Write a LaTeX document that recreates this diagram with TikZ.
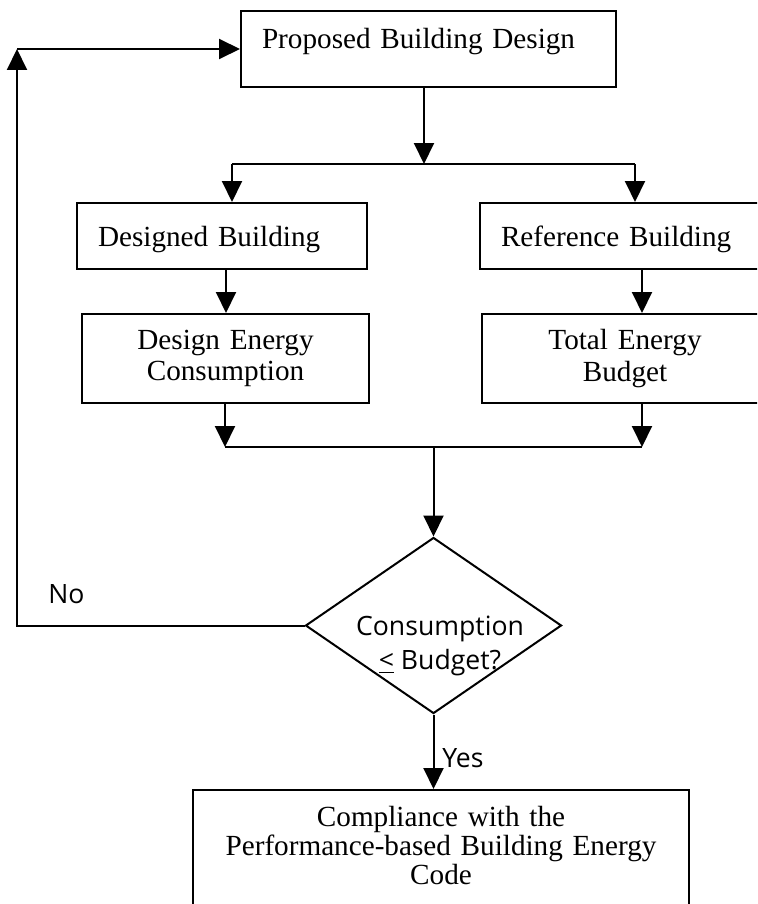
\documentclass[tikz,border=0pt]{standalone}
\usepackage{fontspec}
\setmainfont{Liberation Serif}
\newfontfamily\sansfnt{Open Sans}
\usetikzlibrary{arrows.meta, shapes.geometric}

\begin{document}
\begin{tikzpicture}[x=0.5pt, y=-0.5pt,
  box/.style={draw, line width=1pt, inner xsep=10.5pt, inner ysep=0pt, align=left, font=\fontsize{14.6}{15.8}\selectfont},
  twobox/.style={box, align=center, text width=122.5pt, minimum height=44.5pt},
  decision/.style={draw, line width=1pt, shape=diamond, inner sep=0pt, minimum width=128pt, minimum height=88pt},
  qtext/.style={align=center, inner sep=0pt, font=\sansfnt\fontsize{13.3}{17}\selectfont},
  lbl/.style={inner sep=0pt, font=\sansfnt\fontsize{13.3}{16}\selectfont},
  line/.style={line width=1pt},
  flow/.style={line, -{Triangle[length=10.5pt, width=10pt]}}]
\useasboundingbox (0,0) rectangle (757,904);
\clip (0,0) rectangle (757,904);
% boxes
\node[box, text width=166.5pt, text height=19pt, text depth=19pt] (prop) at (428.5,49) {Proposed Building Design};
\node[box, text width=124pt, text height=21.5pt, text depth=11.5pt] (dbld) at (222,236) {Designed Building};
\node[box, text width=124pt, text height=21.5pt, text depth=11.5pt] (rbld) at (625,236) {Reference Building};
\node[twobox] (denergy) at (225.5,358.5) {Design Energy\\Consumption};
\node[twobox] (tbudget) at (625,358.5) {Total Energy\\Budget};
\node[decision] (check) at (433.5,625.5) {};
\node[qtext] (checktxt) at (440,646) {Consumption\\\underline{<} Budget?};
\node[box, anchor=north, align=center, text width=227pt, inner ysep=8pt, text depth=37pt, font=\fontsize{14.6}{14.5}\selectfont] (comp) at (441,789) {Compliance with the\\Performance-based Building Energy\\Code};
\node[lbl, anchor=base west] (nolbl) at (48,603) {No};
\node[lbl, anchor=base west] (yeslbl) at (442,767) {Yes};
% connector points
\coordinate (split) at (424,164);
\coordinate (splitl) at (232,164);
\coordinate (splitr) at (635,164);
\coordinate (joinl) at (225,447);
\coordinate (joinr) at (642,447);
\coordinate (nocorner) at (17,625.5);
\coordinate (loop) at (17,49);
% connectors
\draw[flow] (prop.south -| split) -- (split);
\draw[line] (splitl) -- (splitr);
\draw[flow] (splitl) -- (splitl |- dbld.north);
\draw[flow] (splitr) -- (splitr |- rbld.north);
\draw[flow] ([xshift=2pt]dbld.south) -- ([xshift=2pt]dbld.south |- denergy.north);
\draw[flow] (rbld.south -| joinr) -- (tbudget.north -| joinr);
\draw[flow] (denergy.south -| joinl) -- (joinl);
\draw[flow] (tbudget.south -| joinr) -- (joinr);
\draw[line] (joinl) -- (joinr);
\draw[flow] (check.north |- joinl) -- (check.north);
\draw[flow] (check.west) -- (nocorner) -- (loop);
\draw[flow] (loop) -- (loop -| prop.west);
\draw[flow] (check.south) -- (check.south |- comp.north);
\end{tikzpicture}
\end{document}
